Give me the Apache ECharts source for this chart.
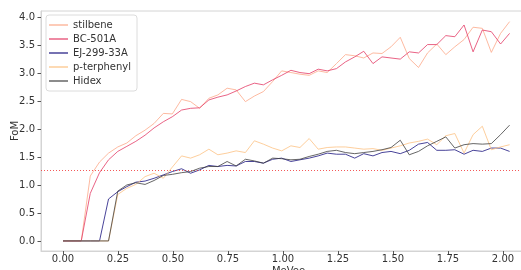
<!DOCTYPE html>
<html>
<head>
<meta charset="utf-8">
<script src="https://cdn.jsdelivr.net/npm/echarts@6/dist/echarts.min.js"></script>
<style>
  html, body { margin: 0; padding: 0; background: #fff; }
  #fomChart { width: 521px; height: 270px; }
</style>
</head>
<body>
<div id="fomChart"></div>
<script>
// energy bins (MeVee)
const energy = [0.000, 0.041, 0.083, 0.124, 0.166, 0.207, 0.249, 0.290, 0.331, 0.373,
  0.414, 0.456, 0.497, 0.539, 0.580, 0.621, 0.663, 0.704, 0.746, 0.787,
  0.829, 0.870, 0.911, 0.953, 0.994, 1.036, 1.077, 1.119, 1.160, 1.201,
  1.243, 1.284, 1.326, 1.367, 1.409, 1.450, 1.491, 1.533, 1.574, 1.616,
  1.657, 1.699, 1.740, 1.781, 1.823, 1.864, 1.906, 1.947, 1.989, 2.030];

const stilbene = [0, 0, 0, 1.16, 1.41, 1.57, 1.68, 1.75, 1.88, 1.98,
  2.10, 2.28, 2.27, 2.53, 2.49, 2.37, 2.55, 2.61, 2.73, 2.70,
  2.49, 2.59, 2.67, 2.85, 3.04, 3.01, 2.98, 2.96, 3.04, 3.01,
  3.17, 3.33, 3.31, 3.27, 3.36, 3.35, 3.47, 3.64, 3.26, 3.10,
  3.36, 3.52, 3.33, 3.47, 3.60, 3.82, 3.80, 3.37, 3.71, 3.92];

const bc501a = [0, 0, 0, 0.85, 1.22, 1.45, 1.60, 1.69, 1.78, 1.89,
  2.02, 2.13, 2.22, 2.34, 2.37, 2.38, 2.52, 2.57, 2.61, 2.68,
  2.76, 2.82, 2.79, 2.88, 2.96, 3.05, 3.01, 2.99, 3.07, 3.04,
  3.08, 3.20, 3.29, 3.39, 3.17, 3.29, 3.27, 3.25, 3.38, 3.36,
  3.51, 3.51, 3.67, 3.65, 3.86, 3.38, 3.77, 3.74, 3.52, 3.71];

const ej29933a = [0, 0, 0, 0, 0, 0.75, 0.88, 0.97, 1.05, 1.07,
  1.12, 1.18, 1.24, 1.29, 1.21, 1.27, 1.35, 1.33, 1.35, 1.34,
  1.42, 1.42, 1.39, 1.46, 1.48, 1.42, 1.45, 1.48, 1.52, 1.57,
  1.55, 1.55, 1.48, 1.56, 1.52, 1.58, 1.60, 1.56, 1.62, 1.73,
  1.76, 1.62, 1.62, 1.63, 1.55, 1.62, 1.60, 1.66, 1.66, 1.60];

const pTerphenyl = [0, 0, 0, 0, 0, 0, 0.83, 0.94, 1.01, 1.15,
  1.21, 1.12, 1.32, 1.52, 1.48, 1.54, 1.64, 1.54, 1.57, 1.61,
  1.58, 1.79, 1.73, 1.66, 1.61, 1.70, 1.67, 1.83, 1.64, 1.67,
  1.68, 1.68, 1.66, 1.64, 1.65, 1.62, 1.66, 1.70, 1.75, 1.78,
  1.82, 1.72, 1.88, 1.92, 1.57, 1.90, 2.05, 1.63, 1.68, 1.72];

const hidex = [0, 0, 0, 0, 0, 0, 0.89, 1.00, 1.04, 1.01,
  1.08, 1.17, 1.19, 1.22, 1.24, 1.30, 1.33, 1.33, 1.42, 1.34,
  1.46, 1.43, 1.39, 1.48, 1.47, 1.45, 1.46, 1.51, 1.55, 1.60,
  1.62, 1.58, 1.56, 1.58, 1.60, 1.63, 1.67, 1.80, 1.54, 1.60,
  1.70, 1.78, 1.86, 1.66, 1.72, 1.74, 1.73, 1.74, 1.90, 2.07];

const xTicks = [0, 0.25, 0.5, 0.75, 1.0, 1.25, 1.5, 1.75, 2.0];
const yTicks = [0, 0.5, 1.0, 1.5, 2.0, 2.5, 3.0, 3.5, 4.0];
const threshold = 1.27;

const chart = echarts.init(document.getElementById("fomChart"));
const font = "DejaVu Sans";

const names = ["stilbene", "BC-501A", "EJ-299-33A", "p-terphenyl", "Hidex"];
const colors = ["#fca98a", "#e43c66", "#1c1580", "#fdc283", "#404040"];
const values = [stilbene, bc501a, ej29933a, pTerphenyl, hidex];

const series = names.map((name, i) => ({
  name,
  type: "line",
  symbol: "none",
  data: energy.map((e, k) => [e, values[i][k]]),
  lineStyle: { width: 1, color: colors[i], opacity: 0.8 },
  itemStyle: { color: colors[i], opacity: 0.8 },
  z: 2 + i,
  emphasis: { disabled: true },
}));

// red dotted reference line
series[0].markLine = {
  silent: true,
  symbol: "none",
  label: { show: false },
  lineStyle: { color: "#f03030", type: [1, 2], width: 1, opacity: 0.8 },
  data: [{ yAxis: threshold }],
};

const option = {
  animation: false,
  color: colors,
  grid: {
    left: 41,
    top: 11,
    width: 495,
    height: 240,
    outerBoundsMode: "none",
    containLabel: false,
    show: true,
    borderColor: "#d4d4d4",
    borderWidth: 1,
    backgroundColor: "transparent",
  },
  legend: {
    orient: "vertical",
    left: 46,
    top: 15,
    padding: [4, 6, 4, 3],
    icon: "rect",
    itemWidth: 19,
    itemHeight: 1.5,
    itemGap: 2,
    backgroundColor: "#fff",
    borderColor: "#dcdcdc",
    borderWidth: 1,
    borderRadius: 3,
    textStyle: { fontFamily: font, fontSize: 10, color: "#333", lineHeight: 12 },
    data: names,
  },
  xAxis: {
    type: "value",
    min: -0.1,
    max: 2.15,
    name: "MeVee",
    nameLocation: "middle",
    nameGap: 15,
    nameMoveOverlap: false,
    nameTextStyle: { fontFamily: font, fontSize: 10, color: "#333" },
    axisLine: { show: true, onZero: false, lineStyle: { color: "#d4d4d4" } },
    axisTick: { show: true, length: 3.5, customValues: xTicks, lineStyle: { color: "#555" } },
    axisLabel: {
      customValues: xTicks,
      margin: 3,
      fontFamily: font,
      fontSize: 10,
      color: "#333",
      formatter: (v) => v.toFixed(2),
    },
    splitLine: { show: false },
  },
  yAxis: {
    type: "value",
    min: -0.18,
    max: 4.11,
    name: "FoM",
    nameLocation: "middle",
    nameGap: 21,
    nameMoveOverlap: false,
    nameTextStyle: { fontFamily: font, fontSize: 10, color: "#333" },
    axisLine: { show: true, onZero: false, lineStyle: { color: "#d4d4d4" } },
    axisTick: { show: true, length: 3.5, customValues: yTicks, lineStyle: { color: "#555" } },
    axisLabel: {
      customValues: yTicks,
      margin: 6,
      fontFamily: font,
      fontSize: 10,
      color: "#333",
      formatter: (v) => v.toFixed(1),
    },
    splitLine: { show: false },
  },
  series,
};

chart.setOption(option);
</script>
</body>
</html>
